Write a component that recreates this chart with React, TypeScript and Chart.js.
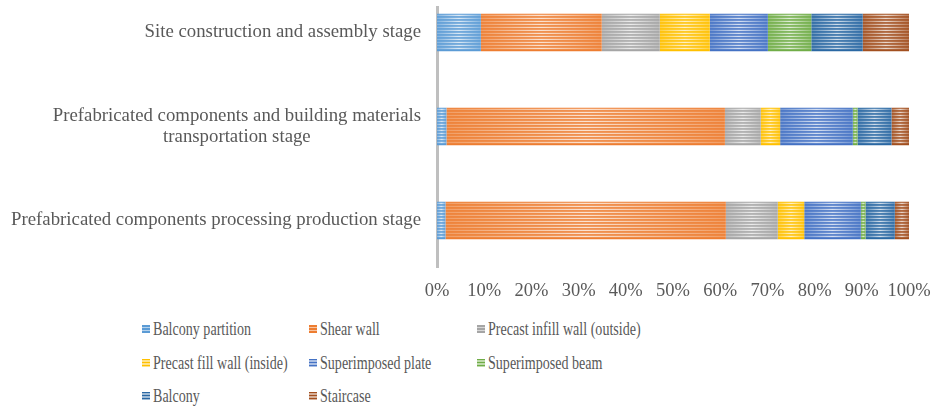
import { useEffect, useRef } from "react";
import { Chart, registerables } from "chart.js";

Chart.register(...registerables);

// Stage labels (top to bottom); multi-line labels are given as arrays of lines
const stages: string[][] = [
  ["Site construction and assembly stage"],
  ["Prefabricated components and building materials", "transportation stage"],
  ["Prefabricated components processing production stage"],
];

const componentNames = [
  "Balcony partition",
  "Shear wall",
  "Precast infill wall (outside)",
  "Precast fill wall (inside)",
  "Superimposed plate",
  "Superimposed beam",
  "Balcony",
  "Staircase",
];

const componentColors = [
  "#5B9BD5",
  "#ED7D31",
  "#A5A5A5",
  "#FFC000",
  "#4472C4",
  "#70AD47",
  "#2A68A3",
  "#A24F1F",
];

// Share (%) of each component per stage, in stage order
const balconyPartition = [9.3, 2.0, 1.8];
const shearWall = [25.6, 59.0, 59.4];
const infillWallOutside = [12.3, 7.6, 11.0];
const fillWallInside = [10.6, 4.1, 5.6];
const superimposedPlate = [12.3, 15.4, 12.0];
const superimposedBeam = [9.2, 1.0, 1.0];
const balcony = [10.9, 7.2, 6.2];
const staircase = [9.8, 3.7, 3.0];

const percentTicks = [0, 10, 20, 30, 40, 50, 60, 70, 80, 90, 100];

const seriesValues = [
  balconyPartition,
  shearWall,
  infillWallOutside,
  fillWallInside,
  superimposedPlate,
  superimposedBeam,
  balcony,
  staircase,
];

const TEXT_COLOR = "#595959";
const SERIF = '"Liberation Serif", "Times New Roman", serif';

// Light horizontal stripes over each bar segment, brighter towards its centre
const stripePlugin = {
  id: "stripes",
  afterDatasetsDraw(chart: any) {
    const ctx = chart.ctx as CanvasRenderingContext2D;
    chart.data.datasets.forEach((_ds: any, di: number) => {
      const meta = chart.getDatasetMeta(di);
      meta.data.forEach((el: any) => {
        const { x, y, base, height } = el.getProps(["x", "y", "base", "height"], true);
        const left = Math.min(x, base);
        const right = Math.max(x, base);
        const w = right - left;
        if (w <= 0) return;
        const top = y - height / 2;
        const g = ctx.createLinearGradient(left, 0, right, 0);
        g.addColorStop(0, "rgba(255,255,255,0.25)");
        g.addColorStop(0.5, "rgba(255,255,255,0.78)");
        g.addColorStop(1, "rgba(255,255,255,0.25)");
        ctx.save();
        ctx.fillStyle = g;
        for (let yy = top + 1; yy < top + height - 1; yy += 3) {
          ctx.fillRect(left, yy, w, 1.5);
        }
        ctx.restore();
      });
    });
  },
};

// Category labels: right-aligned block, lines centred within the block
const stageLabelPlugin = {
  id: "stageLabels",
  afterDraw(chart: any) {
    const ctx = chart.ctx as CanvasRenderingContext2D;
    const yScale = chart.scales.y;
    const right = chart.chartArea.left - 16;
    const lineHeight = 21;
    ctx.save();
    ctx.font = `18.8px ${SERIF}`;
    ctx.fillStyle = TEXT_COLOR;
    ctx.textBaseline = "middle";
    ctx.textAlign = "center";
    (chart.data.labels as string[][]).forEach((lines, i) => {
      const cy = yScale.getPixelForValue(i);
      const blockWidth = Math.max(...lines.map((l) => ctx.measureText(l).width));
      const cx = right - blockWidth / 2;
      lines.forEach((line, j) => {
        ctx.fillText(line, cx, cy + (j - (lines.length - 1) / 2) * lineHeight);
      });
    });
    ctx.restore();
  },
};

function LegendItem({ name, color }: { name: string; color: string }) {
  return (
    <div style={{ display: "flex", alignItems: "center", height: 33.5 }}>
      <span
        style={{
          display: "inline-block",
          width: 8,
          height: 8,
          background: `repeating-linear-gradient(to bottom, ${color} 0px, ${color} 1.5px, rgba(255,255,255,0.55) 1.5px, rgba(255,255,255,0.55) 3px), ${color}`,
          backgroundColor: color,
          flex: "0 0 auto",
        }}
      />
      <span
        style={{
          display: "inline-block",
          marginLeft: 3,
          fontFamily: SERIF,
          fontSize: 18.5,
          lineHeight: 1,
          color: TEXT_COLOR,
          whiteSpace: "nowrap",
          transform: "scaleX(0.76)",
          transformOrigin: "left center",
        }}
      >
        {name}
      </span>
    </div>
  );
}

export default function App() {
  const canvasRef = useRef<HTMLCanvasElement | null>(null);

  useEffect(() => {
    if (!canvasRef.current) return;
    const chart = new Chart(canvasRef.current, {
      type: "bar",
      data: {
        labels: stages as any,
        datasets: componentNames.map((name, i) => ({
          label: name,
          data: seriesValues[i],
          backgroundColor: componentColors[i],
          borderWidth: 0,
          categoryPercentage: 0.5,
          barPercentage: 0.8,
        })),
      },
      options: {
        indexAxis: "y",
        responsive: false,
        animation: false,
        layout: { padding: { top: 9.5, right: 24, bottom: 0, left: 0 } },
        plugins: {
          legend: { display: false },
          tooltip: { enabled: false },
        },
        scales: {
          x: {
            stacked: true,
            min: 0,
            max: 100,
            grid: { display: false, drawTicks: false },
            border: { display: false },
            afterBuildTicks: (scale: any) => {
              scale.ticks = percentTicks.map((v) => ({ value: v }));
            },
            afterFit: (scale: any) => {
              scale.height = 38.5;
              scale.paddingLeft = 0;
              scale.paddingRight = 0;
            },
            ticks: {
              padding: 13,
              color: TEXT_COLOR,
              font: { family: SERIF, size: 18.5 },
              maxRotation: 0,
              autoSkip: false,
              callback: (v: any) => `${v}%`,
            },
          },
          y: {
            stacked: true,
            grid: { display: false, drawTicks: false },
            border: { display: true, color: "#BFBFBF", width: 3 },
            ticks: { display: false },
            afterFit: (scale: any) => {
              scale.width = 437;
            },
          },
        },
      },
      plugins: [stripePlugin, stageLabelPlugin],
    });
    return () => chart.destroy();
  }, []);

  return (
    <div style={{ position: "absolute", left: 0, top: 0, width: 933, height: 410, background: "#fff" }}>
      <div style={{ position: "absolute", left: 0, top: 6, width: 933, height: 304, overflow: "hidden" }}>
        <div style={{ position: "absolute", left: 0, top: -30, width: 933, height: 330 }}>
          <canvas ref={canvasRef} width={933} height={330} />
        </div>
      </div>
      <div
        style={{
          position: "absolute",
          left: 142,
          top: 312.5,
          display: "grid",
          gridTemplateColumns: "167px 168px 220px",
        }}
      >
        {componentNames.map((name, i) => (
          <LegendItem key={name} name={name} color={componentColors[i]} />
        ))}
      </div>
    </div>
  );
}
